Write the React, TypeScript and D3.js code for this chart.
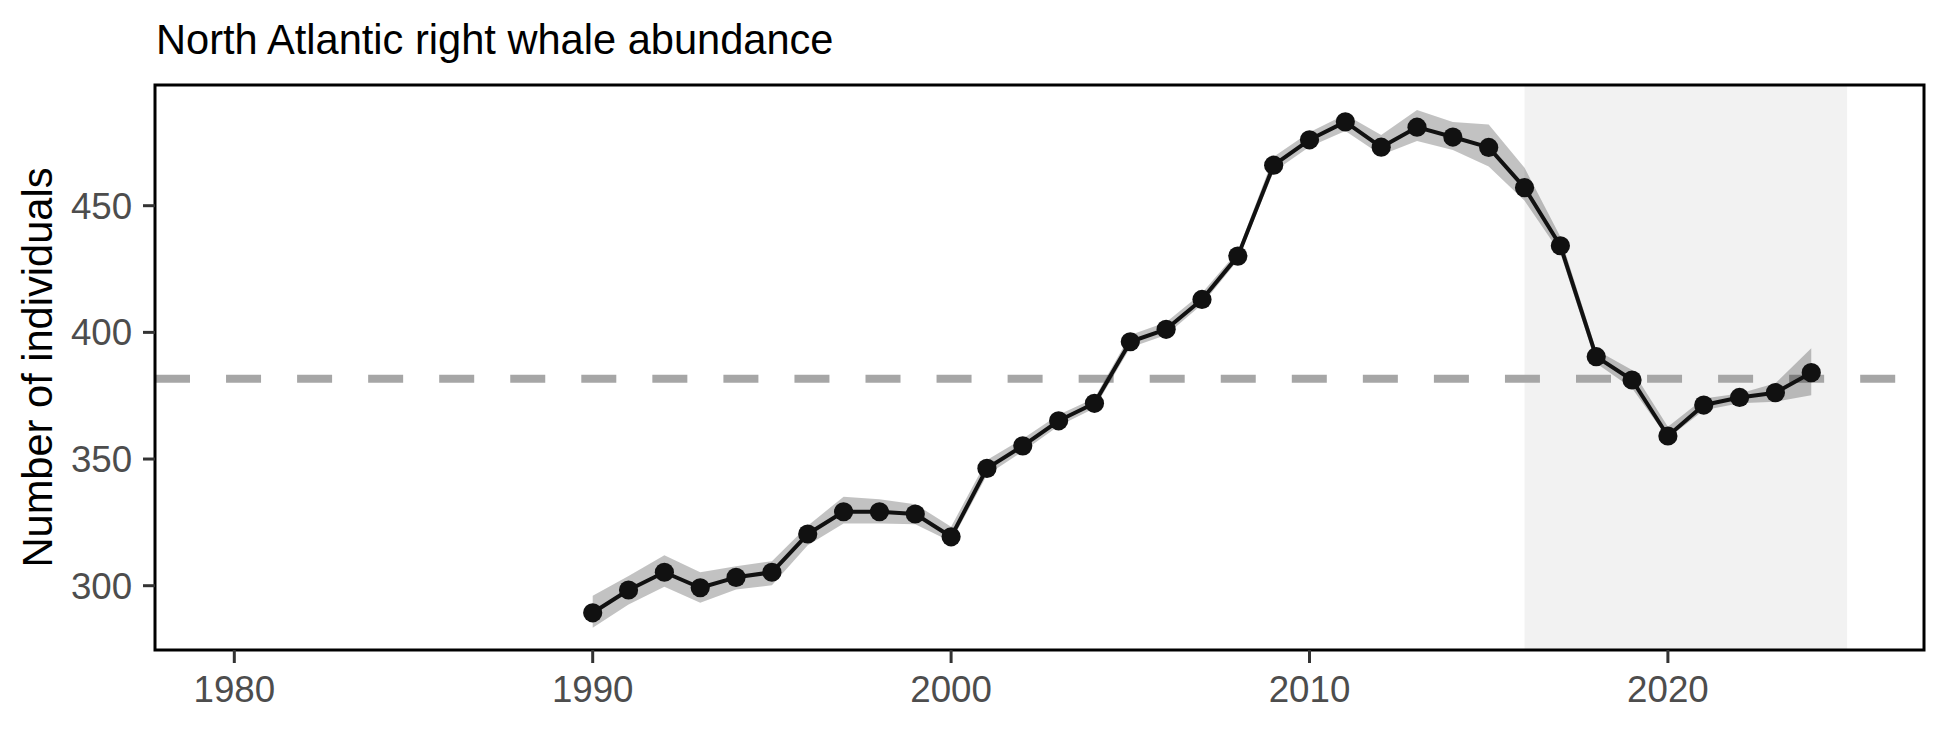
import React from "react";
import * as d3 from "d3";

const title = "North Atlantic right whale abundance";
const yTitle = "Number of individuals";

const years = [
  1990, 1991, 1992, 1993, 1994, 1995, 1996, 1997, 1998, 1999,
  2000, 2001, 2002, 2003, 2004, 2005, 2006, 2007, 2008, 2009,
  2010, 2011, 2012, 2013, 2014, 2015, 2016, 2017, 2018, 2019,
  2020, 2021, 2022, 2023, 2024,
];
const abundance = [
  289.3, 298.3, 305.3, 299.2, 303.3, 305.3, 320.4, 329.2, 329.2, 328.3,
  319.3, 346.3, 355.2, 365.1, 372.0, 396.3, 401.2, 413.0, 430.1, 466.0,
  476.0, 483.1, 473.1, 481.0, 477.1, 473.0, 457.1, 434.2, 390.4, 381.2,
  359.1, 371.3, 374.3, 376.2, 384.1,
];
const lower = [
  283.4, 292.6, 299.6, 293.3, 298.5, 300.2, 316.0, 324.6, 324.6, 324.3,
  317.3, 343.7, 353.0, 363.0, 370.0, 394.0, 399.0, 411.0, 428.5, 463.4,
  473.3, 479.5, 470.0, 475.5, 472.0, 465.5, 452.0, 431.2, 387.8, 377.9,
  358.2, 369.3, 372.0, 372.6, 375.2,
];
const upper = [
  296.0, 303.8, 312.0, 305.3, 307.7, 309.7, 323.7, 335.1, 334.1, 332.2,
  323.3, 349.6, 358.0, 367.5, 374.0, 399.0, 404.0, 415.5, 432.0, 469.3,
  479.0, 486.0, 477.9, 487.8, 483.0, 482.1, 465.0, 437.7, 393.0, 385.1,
  362.7, 373.9, 375.9, 379.9, 393.7,
];
const referenceLevel = 381.7;
const shadeStart = 2016;
const shadeEnd = 2025;
const xTicks = [1980, 1990, 2000, 2010, 2020];
const yTicks = [300, 350, 400, 450];

const FONT = "'Liberation Sans', Arial, Helvetica, sans-serif";

export default function App() {
  const W = 1950;
  const H = 750;
  const panel = { left: 155, right: 1924, top: 85, bottom: 650 };

  const x = d3.scaleLinear().domain([1980, 2020]).range([234.3, 1667.9]);
  const y = d3.scaleLinear().domain([300, 450]).range([585.7, 205.7]);

  const rows = years.map((yr, i) => ({
    yr,
    v: abundance[i],
    lo: lower[i],
    hi: upper[i],
  }));

  const area = d3
    .area<any>()
    .x((d) => x(d.yr))
    .y0((d) => y(d.lo))
    .y1((d) => y(d.hi));
  const line = d3
    .line<any>()
    .x((d) => x(d.yr))
    .y((d) => y(d.v));

  return (
    <svg
      width={W}
      height={H}
      viewBox={`0 0 ${W} ${H}`}
      style={{ position: "absolute", left: 0, top: 0, display: "block", background: "#fff" }}
      fontFamily={FONT}
    >
      <rect x={0} y={0} width={W} height={H} fill="#fff" />
      <defs>
        <clipPath id="panelClip">
          <rect
            x={panel.left}
            y={panel.top}
            width={panel.right - panel.left}
            height={panel.bottom - panel.top}
          />
        </clipPath>
      </defs>
      <g clipPath="url(#panelClip)">
        <rect
          x={x(shadeStart)}
          y={panel.top}
          width={x(shadeEnd) - x(shadeStart)}
          height={panel.bottom - panel.top}
          fill="#f2f2f2"
        />
        <line
          x1={panel.left}
          x2={panel.right}
          y1={y(referenceLevel)}
          y2={y(referenceLevel)}
          stroke="#a6a6a6"
          strokeWidth={8}
          strokeDasharray="35 36.05"
        />
        <path d={area(rows) || ""} fill="#000" fillOpacity={0.24} />
        <path d={line(rows) || ""} fill="none" stroke="#111" strokeWidth={4} strokeLinejoin="round" />
        {rows.map((d) => (
          <circle key={d.yr} cx={x(d.yr)} cy={y(d.v)} r={9.6} fill="#111" />
        ))}
      </g>
      <rect
        x={panel.left}
        y={panel.top}
        width={panel.right - panel.left}
        height={panel.bottom - panel.top}
        fill="none"
        stroke="#000"
        strokeWidth={3}
      />
      {yTicks.map((t) => (
        <g key={t}>
          <line x1={143} x2={panel.left} y1={y(t)} y2={y(t)} stroke="#333" strokeWidth={3} />
          <text
            x={132.2}
            y={y(t) + 13.1}
            textAnchor="end"
            fontSize={36.7}
            fill="#4d4d4d"
          >
            {t}
          </text>
        </g>
      ))}
      {xTicks.map((t) => (
        <g key={t}>
          <line x1={x(t)} x2={x(t)} y1={panel.bottom} y2={663} stroke="#333" strokeWidth={3} />
          <text x={x(t)} y={701.5} textAnchor="middle" fontSize={36.7} fill="#4d4d4d">
            {t}
          </text>
        </g>
      ))}
      <text x={156} y={53.5} fontSize={41.6} fill="#000">
        {title}
      </text>
      <text
        transform={`translate(51.7, ${(panel.top + panel.bottom) / 2}) rotate(-90)`}
        textAnchor="middle"
        fontSize={41.6}
        fill="#000"
      >
        {yTitle}
      </text>
    </svg>
  );
}
